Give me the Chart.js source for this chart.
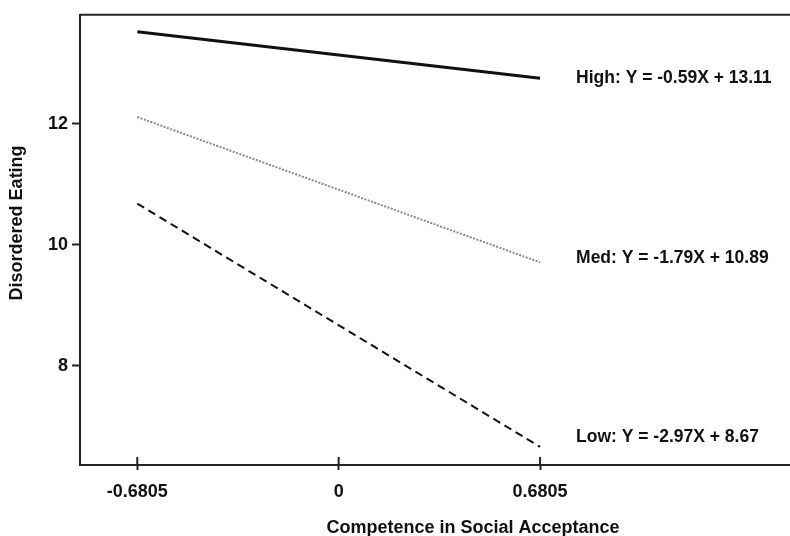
<!DOCTYPE html>
<html>
<head>
<meta charset="utf-8">
<script src="https://cdn.jsdelivr.net/npm/chart.js@4"></script>
<style>
  html, body { margin: 0; padding: 0; background: #fff; }
</style>
</head>
<body>
<canvas id="grafico" width="790" height="536"></canvas>
<script>
// Datos
const xVals = [-0.6805, 0.6805];
const xTicks = [-0.6805, 0, 0.6805];
const yTicks = [8, 10, 12];
const high = [13.52, 12.75];
const med = [12.11, 9.71];
const low = [10.68, 6.66];
const ecuaciones = [
  "High: Y = -0.59X + 13.11",
  "Med: Y = -1.79X + 10.89",
  "Low: Y = -2.97X + 8.67",
];

const fuente = "'Liberation Sans', Arial, Helvetica, sans-serif";

function puntos(serie) {
  return serie.map((v, i) => ({ x: xVals[i], y: v }));
}

// Etiquetas, borde superior y marcas internas del eje x
const extras = {
  id: "extras",
  afterDraw(chart) {
    const ctx = chart.ctx;
    const area = chart.chartArea;
    const sx = chart.scales.x;
    const sy = chart.scales.y;
    ctx.save();
    ctx.strokeStyle = "#222";
    ctx.lineWidth = 2;
    ctx.beginPath();
    ctx.moveTo(area.left, area.top);
    ctx.lineTo(area.right, area.top);
    ctx.stroke();
    sx.ticks.forEach((t) => {
      const px = sx.getPixelForValue(t.value);
      ctx.beginPath();
      ctx.moveTo(px, area.bottom);
      ctx.lineTo(px, area.bottom - 8);
      ctx.stroke();
    });

    const desfase = [0, -4, -10];
    ctx.fillStyle = "#111";
    ctx.font = "bold 17.5px " + fuente;
    ctx.textBaseline = "middle";
    ctx.textAlign = "left";
    chart.data.datasets.forEach((ds, i) => {
      const fin = ds.data[ds.data.length - 1];
      const px = sx.getPixelForValue(fin.x) + 36;
      const py = sy.getPixelForValue(fin.y) + desfase[i];
      ctx.fillText(ecuaciones[i], px, py);
    });

    // titulos de los ejes
    ctx.font = "bold 18px " + fuente;
    ctx.textAlign = "center";
    ctx.fillText("Competence in Social Acceptance", (area.left + area.right) / 2 + 38, 528);

    ctx.translate(17, (area.top + area.bottom) / 2 - 17);
    ctx.rotate(-Math.PI / 2);
    ctx.fillText("Disordered Eating", 0, 0);
    ctx.restore();
  },
};

let ctx1 = document.getElementById("grafico").getContext("2d");
let graf = new Chart(ctx1, {
  type: "line",
  data: {
    datasets: [
      {
        label: "High",
        data: puntos(high),
        borderColor: "#111",
        borderWidth: 3,
        pointRadius: 0,
      },
      {
        label: "Med",
        data: puntos(med),
        borderColor: "#8a8a8a",
        borderWidth: 2,
        borderDash: [2, 1.5],
        pointRadius: 0,
      },
      {
        label: "Low",
        data: puntos(low),
        borderColor: "#111",
        borderWidth: 2,
        borderDash: [8, 5],
        pointRadius: 0,
      },
    ],
  },
  options: {
    responsive: false,
    animation: false,
    layout: { padding: { top: 12, right: 0, left: 0, bottom: 0 } },
    plugins: {
      legend: { display: false },
      tooltip: { enabled: false },
    },
    scales: {
      x: {
        type: "linear",
        min: -0.874,
        max: 1.525,
        afterBuildTicks: (s) => {
          s.ticks = xTicks.map((v) => ({ value: v }));
        },
        afterFit: (s) => {
          s.height = 71;
        },
        ticks: {
          color: "#111",
          padding: 11,
          maxRotation: 0,
          font: { family: fuente, size: 18, weight: "bold" },
          callback: (v) => (v === 0 ? "0" : String(v)),
        },
        grid: {
          drawOnChartArea: false,
          tickLength: 5,
          tickWidth: 2,
          tickColor: "#222",
        },
        border: { color: "#222", width: 2 },
      },
      y: {
        min: 6.36,
        max: 13.8,
        afterBuildTicks: (s) => {
          s.ticks = yTicks.map((v) => ({ value: v }));
        },
        afterFit: (s) => {
          s.width = 80;
        },
        ticks: {
          color: "#111",
          padding: 4,
          font: { family: fuente, size: 18, weight: "bold" },
        },
        grid: {
          drawOnChartArea: false,
          tickLength: 8,
          tickWidth: 2,
          tickColor: "#222",
        },
        border: { color: "#222", width: 2 },
      },
    },
  },
  plugins: [extras],
});
</script>
</body>
</html>
